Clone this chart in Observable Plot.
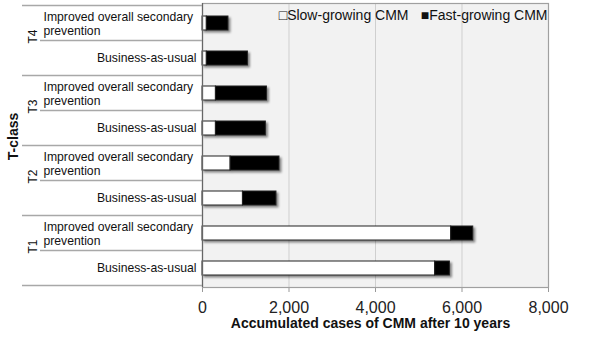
<!DOCTYPE html>
<html>
<head>
<meta charset="utf-8">
<script src="https://cdn.jsdelivr.net/npm/d3@7"></script>
<script src="https://cdn.jsdelivr.net/npm/@observablehq/plot@0.6"></script>
<style>
  html, body { margin: 0; padding: 0; background: #fff; }
  #chart { width: 601px; height: 338px; }
</style>
</head>
<body>
<div id="chart"></div>
<script>
// ---- data ----
const tClasses   = ["T4", "T4", "T3", "T3", "T2", "T2", "T1", "T1"];
const scenarios  = ["Improved overall secondary\nprevention", "Business-as-usual",
                    "Improved overall secondary\nprevention", "Business-as-usual",
                    "Improved overall secondary\nprevention", "Business-as-usual",
                    "Improved overall secondary\nprevention", "Business-as-usual"];
const slowGrowing = [100, 100, 310, 310, 650, 935, 5750, 5380];
const fastGrowing = [500, 950, 1180, 1155, 1130, 775, 510, 340];
const seriesNames = ["Slow-growing CMM", "Fast-growing CMM"];
const xTicks = [0, 2000, 4000, 6000, 8000];
const groupNames = ["T4", "T3", "T2", "T1"];

// ---- derived tables ----
const rowKeys = tClasses.map((t, i) => t + "|" + scenarios[i].replace("\n", " "));
const rows = rowKeys.map((k, i) => ({key: k, t: tClasses[i], scenario: scenarios[i]}));
const long = [];
rowKeys.forEach((k, i) => {
  long.push({key: k, series: seriesNames[0], value: slowGrowing[i]});
  long.push({key: k, series: seriesNames[1], value: fastGrowing[i]});
});
const groupRows = groupNames.map(g => rows.find(r => r.t === g));

const FONT = "'Liberation Sans', Arial, Helvetica, sans-serif";
const mLeft = 202, mTop = 3, mBottom = 51, mRight = 53;
const padInner = 0.6, padOuter = 0.3;

const plot = Plot.plot({
  width: 601,
  height: 338,
  marginLeft: mLeft,
  marginRight: mRight,
  marginTop: mTop,
  marginBottom: mBottom,
  style: {fontFamily: FONT, fontSize: "16px", background: "#fff", color: "#222", overflow: "visible"},
  x: {domain: [0, 8000], ticks: xTicks, tickFormat: d3.format(","), tickSize: 5, tickPadding: 9, label: null},
  y: {domain: rowKeys, paddingInner: padInner, paddingOuter: padOuter, axis: null},
  color: {domain: seriesNames, range: ["#ffffff", "#000000"]},
  marks: [
    Plot.frame({fill: "#f2f2f2", stroke: null}),
    Plot.ruleX(xTicks.slice(1, -1), {stroke: "#cfcfcf", strokeWidth: 1}),
    Plot.barX(long, Plot.stackX({x: "value", y: "key", fill: "series", stroke: "#222", strokeWidth: 1, order: seriesNames})),
    Plot.frame({stroke: "#a0a0a0", strokeWidth: 1.2}),
    Plot.ruleX([0], {stroke: "#666", strokeWidth: 1.2}),
    // category labels
    Plot.text(rows.filter((r, i) => i % 2 === 1), {y: "key", text: "scenario", frameAnchor: "left", textAnchor: "end", dx: -6, fontSize: 12.2, fill: "#111"}),
    Plot.text(rows.filter((r, i) => i % 2 === 0), {y: "key", text: "scenario", frameAnchor: "left", textAnchor: "start", dx: -159, fontSize: 12.2, lineHeight: 1.1, fill: "#111"}),
    // group labels
    Plot.text(groupRows, {y: "key", text: "t", frameAnchor: "left", textAnchor: "middle", rotate: -90, dx: -169, dy: 13, fontSize: 12, fill: "#111"}),
    // T-class axis title
    Plot.text(["T-class"], {frameAnchor: "left", textAnchor: "middle", rotate: -90, dx: -189, dy: -9, fontSize: 14, fontWeight: "bold", fill: "#111"}),
    // x axis title
    Plot.text(["Accumulated cases of CMM after 10 years"], {frameAnchor: "bottom", textAnchor: "middle", lineAnchor: "middle", dy: 36, dx: -5, fontSize: 14, fontWeight: "bold", fill: "#111"}),
    // legend
    Plot.text(["\u25A0Fast-growing CMM"], {frameAnchor: "top-right", textAnchor: "end", lineAnchor: "middle", dx: -1, dy: 12, fontSize: 14, fill: "#111"}),
    Plot.text(["\u25A1Slow-growing CMM"], {frameAnchor: "top-right", textAnchor: "end", lineAnchor: "middle", dx: -140, dy: 12, fontSize: 14, fill: "#111"})
  ]
});

// bar shadows
d3.select(plot).selectAll('g[aria-label="bar"]').style("filter", "drop-shadow(2px 2px 1.2px rgba(0,0,0,0.45))");
d3.select(plot).selectAll('g[aria-label="x-axis tick"] path, g[aria-label="x-axis"] path').attr("stroke", "#999");

// category separators drawn from the y scale
const ys = plot.scale("y");
const step = ys.apply(rowKeys[1]) - ys.apply(rowKeys[0]);
const band = ys.bandwidth !== undefined ? ys.bandwidth : step * (1 - padInner);
const gap = (step - band) / 2;
const sep = d3.select(plot).append("g").attr("stroke", "#a8a8a8").attr("stroke-width", 1.5);
rowKeys.forEach((k, i) => {
  const yy = ys.apply(k) - gap;
  sep.append("line").attr("x1", i % 2 === 0 ? mLeft - 180 : mLeft - 162).attr("x2", mLeft).attr("y1", yy).attr("y2", yy);
});
const yBottom = ys.apply(rowKeys[rowKeys.length - 1]) + band + gap;
sep.append("line").attr("x1", mLeft - 180).attr("x2", mLeft).attr("y1", yBottom).attr("y2", yBottom);

document.getElementById("chart").appendChild(plot);
</script>
</body>
</html>
